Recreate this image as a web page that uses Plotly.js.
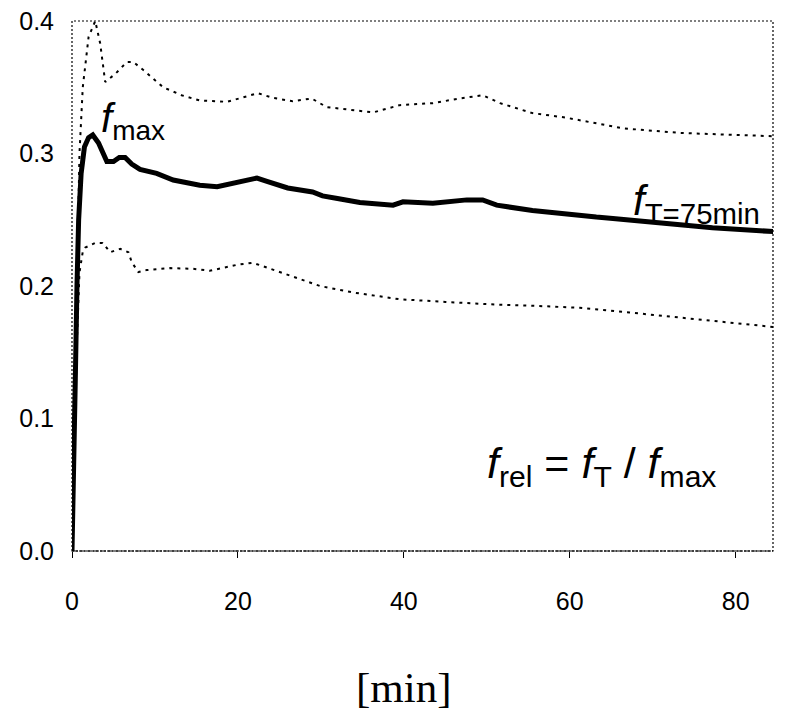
<!DOCTYPE html>
<html>
<head>
<meta charset="utf-8">
<script src="https://cdn.plot.ly/plotly-3.0.1.min.js"></script>
<style>html,body{margin:0;padding:0;background:#fff;}#chart{width:789px;height:720px;}</style>
</head>
<body>
<div id="chart"></div>
<script>
// time [min]
const mainT = [0, 0.2, 0.4, 0.6, 0.8, 1.1, 1.5, 2.0, 2.5, 3.2, 4.2, 5.0, 5.7, 6.4, 7.2, 8.2, 10.2, 12.2, 15.4, 17.5, 20, 22.3, 23.5, 26, 29, 30.2, 32, 34.7, 38.7, 39.9, 43.5, 47.6, 49.5, 51.2, 55.5, 59.6, 63.2, 65.2, 71.2, 77.2, 84.7];
const mainF = [0, 0.05, 0.13, 0.2, 0.25, 0.285, 0.305, 0.312, 0.314, 0.308, 0.294, 0.294, 0.297, 0.297, 0.292, 0.288, 0.285, 0.28, 0.276, 0.275, 0.278, 0.2815, 0.279, 0.274, 0.271, 0.268, 0.266, 0.263, 0.261, 0.2635, 0.2625, 0.265, 0.265, 0.261, 0.257, 0.254, 0.252, 0.251, 0.2475, 0.244, 0.241];

const upperT = [0, 0.3, 0.6, 0.9, 1.3, 2.0, 2.8, 3.4, 4.0, 5.2, 6.6, 7.4, 8.6, 11, 13.2, 15.4, 18.7, 22.4, 24.2, 26.6, 28.9, 30.7, 33.5, 36.3, 39.5, 43.5, 46.7, 49.5, 51.6, 55.5, 59.6, 63.2, 66.4, 73.3, 79.3, 84.7];
const upperF = [0, 0.1, 0.22, 0.3, 0.35, 0.388, 0.4, 0.383, 0.354, 0.36, 0.369, 0.369, 0.363, 0.35, 0.344, 0.340, 0.339, 0.3455, 0.342, 0.3395, 0.3415, 0.335, 0.333, 0.331, 0.3365, 0.338, 0.3415, 0.344, 0.338, 0.3305, 0.327, 0.323, 0.319, 0.3155, 0.314, 0.313];

const lowerT = [0, 0.3, 0.6, 0.9, 1.3, 1.6, 2.8, 3.7, 4.6, 5.8, 6.8, 7.2, 8.0, 9.0, 11.8, 14.6, 16.6, 19.9, 21.8, 23.0, 25.9, 29.9, 34, 39.5, 45, 51, 56, 61.2, 67.2, 73.3, 79.3, 84.7];
const lowerF = [0, 0.08, 0.16, 0.21, 0.226, 0.229, 0.2325, 0.2325, 0.2255, 0.228, 0.2255, 0.218, 0.2105, 0.212, 0.2135, 0.213, 0.2115, 0.216, 0.2175, 0.215, 0.2085, 0.2, 0.195, 0.19, 0.188, 0.186, 0.185, 0.1835, 0.18, 0.176, 0.172, 0.169];

const xTicks = [0, 20, 40, 60, 80];
const yTicks = [0, 0.1, 0.2, 0.3, 0.4];
const yTickText = ['0.0', '0.1', '0.2', '0.3', '0.4'];

const traces = [
  {x: upperT, y: upperF, mode: 'lines', line: {color: '#000', width: 2, dash: '3px,5px'}, hoverinfo: 'skip'},
  {x: lowerT, y: lowerF, mode: 'lines', line: {color: '#000', width: 2, dash: '3px,5px'}, hoverinfo: 'skip'},
  {x: mainT, y: mainF, mode: 'lines', line: {color: '#000', width: 5}, hoverinfo: 'skip'}
];

const layout = {
  width: 789, height: 720,
  margin: {l: 72, r: 16, t: 21, b: 169},
  paper_bgcolor: '#fff', plot_bgcolor: '#fff',
  showlegend: false,
  font: {family: 'Liberation Sans', color: '#000', size: 25},
  xaxis: {
    range: [0, 84.5], tickvals: xTicks, ticks: 'outside', ticklen: 6, tickcolor: '#000',
    showgrid: false, zeroline: false, showline: false,
    tickfont: {family: 'Liberation Sans', size: 25, color: '#000'}, ticklabelstandoff: 22
  },
  yaxis: {
    range: [0, 0.4], tickvals: yTicks, ticktext: yTickText, ticks: 'outside', ticklen: 12, tickcolor: 'rgba(0,0,0,0)',
    showgrid: false, zeroline: false, showline: false,
    tickfont: {family: 'Liberation Sans', size: 25, color: '#000'}
  }
};

const extras = {
  shapes: [
    {type: 'rect', xref: 'paper', yref: 'paper', x0: 0, x1: 1, y0: 0, y1: 1, line: {color: '#000', width: 1.2, dash: '2px,2px'}},
    {type: 'line', xref: 'paper', yref: 'paper', x0: 0, x1: 1, y0: 0, y1: 0, line: {color: '#000', width: 1.2, dash: '6px,1px'}}
  ],
  annotations: [
    {xref: 'x', yref: 'y', x: 3.3, y: 0.304, xanchor: 'left', yanchor: 'bottom', showarrow: false,
     text: '<i>f</i><sub>max</sub>', font: {family: 'Liberation Sans', size: 40, color: '#000'}},
    {xref: 'x', yref: 'y', x: 67.4, y: 0.241, xanchor: 'left', yanchor: 'bottom', showarrow: false,
     text: '<i>f</i><sub>T=75min</sub>', font: {family: 'Liberation Sans', size: 42, color: '#000'}},
    {xref: 'x', yref: 'y', x: 49.8, y: 0.042, xanchor: 'left', yanchor: 'bottom', showarrow: false,
     text: '<i>f</i><sub>rel</sub> = <i>f</i><sub>T</sub> / <i>f</i><sub>max</sub>',
     font: {family: 'Liberation Sans', size: 43, color: '#000'}},
    {xref: 'paper', yref: 'paper', x: 0.474, y: -0.258, xanchor: 'center', yanchor: 'middle', showarrow: false,
     text: '[min]', font: {family: 'Liberation Serif', size: 43, color: '#000'}}
  ]
};

Plotly.newPlot('chart', traces, layout, {displayModeBar: false, staticPlot: true}).then(function (gd) {
  return Plotly.relayout(gd, extras);
});
</script>
</body>
</html>
